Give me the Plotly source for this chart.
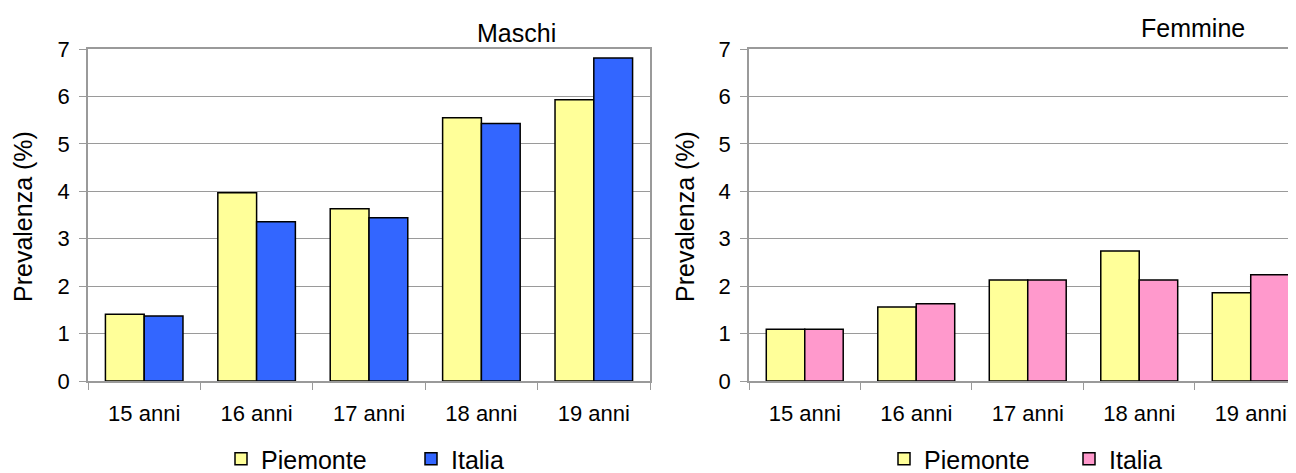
import plotly.graph_objects as go
from plotly.subplots import make_subplots

categories = ["15 anni", "16 anni", "17 anni", "18 anni", "19 anni"]
maschi_piemonte = [1.41, 3.97, 3.63, 5.55, 5.93]
maschi_italia = [1.37, 3.36, 3.44, 5.43, 6.81]
femmine_piemonte = [1.09, 1.56, 2.13, 2.74, 1.86]
femmine_italia = [1.09, 1.63, 2.13, 2.13, 2.24]

FONT = "Arial, Liberation Sans, sans-serif"
GRID = "#9a9a9a"

# the page body adds an 8px margin; the figure is a bit taller than the window so the
# legends near the bottom edge stay inside it and don't push the margins
OFF = 8
W, H = 1296 - OFF, 500


def fx(px):
    return (px - OFF) / W


def fy(py):
    return (H - (py - OFF)) / H


fig = make_subplots(rows=1, cols=2)

bar_line = dict(color="black", width=1.5)
fig.add_trace(go.Bar(x=categories, y=maschi_piemonte, name="Piemonte",
                     marker=dict(color="#FFFF99", line=bar_line), legend="legend"), 1, 1)
fig.add_trace(go.Bar(x=categories, y=maschi_italia, name="Italia",
                     marker=dict(color="#3366FF", line=bar_line), legend="legend2"), 1, 1)
fig.add_trace(go.Bar(x=categories, y=femmine_piemonte, name="Piemonte",
                     marker=dict(color="#FFFF99", line=bar_line), legend="legend3"), 1, 2)
fig.add_trace(go.Bar(x=categories, y=femmine_italia, name="Italia",
                     marker=dict(color="#FF99CC", line=bar_line), legend="legend4"), 1, 2)


def legend_at(px_left):
    # one legend per entry so each can sit where the original puts it
    return dict(orientation="h", x=fx(px_left), y=fy(459), xanchor="left", yanchor="middle",
                font=dict(size=25), bgcolor="rgba(0,0,0,0)", borderwidth=0)


y_dom = [fy(381), fy(49)]
fig.update_layout(
    width=W, height=H,
    margin=dict(l=0, r=0, t=0, b=0),
    paper_bgcolor="white", plot_bgcolor="white",
    font=dict(family=FONT, size=22, color="black"),
    barmode="group", bargap=0.31, bargroupgap=0,
    showlegend=True,
    xaxis=dict(domain=[fx(88), fx(650)], range=[-0.5, 4.5]),
    xaxis2=dict(domain=[fx(749), 1.0], range=[-0.5, 4.406]),
    yaxis=dict(domain=y_dom, mirror=True),
    yaxis2=dict(domain=y_dom, mirror=False),
    legend=legend_at(221),
    legend2=legend_at(411),
    legend3=legend_at(884),
    legend4=legend_at(1069),
)

fig.update_xaxes(showline=True, linecolor=GRID, linewidth=1.5, mirror=True,
                 ticks="outside", tickson="boundaries", ticklen=7, tickcolor=GRID,
                 showgrid=False, tickfont=dict(size=22), ticklabelstandoff=12,
                 automargin=False)
fig.update_yaxes(range=[0, 7], dtick=1, showline=True, linecolor=GRID, linewidth=1.5,
                 ticks="outside", ticklen=7, tickcolor=GRID,
                 showgrid=True, gridcolor=GRID, gridwidth=1, zeroline=False,
                 tickfont=dict(size=22), ticklabelstandoff=5, automargin=False)

titles = [("Maschi", 516, 33), ("Femmine", 1193, 28)]
for text, cx, cy in titles:
    fig.add_annotation(text=text, x=fx(cx), y=fy(cy), xref="paper", yref="paper",
                       xanchor="center", yanchor="middle", showarrow=False,
                       font=dict(size=25))
for cx in (23, 685):
    fig.add_annotation(text="Prevalenza (%)", x=fx(cx), y=fy(217), xref="paper",
                       yref="paper", xanchor="center", yanchor="middle", textangle=-90,
                       showarrow=False, font=dict(size=25))

fig.write_html("out.html")
